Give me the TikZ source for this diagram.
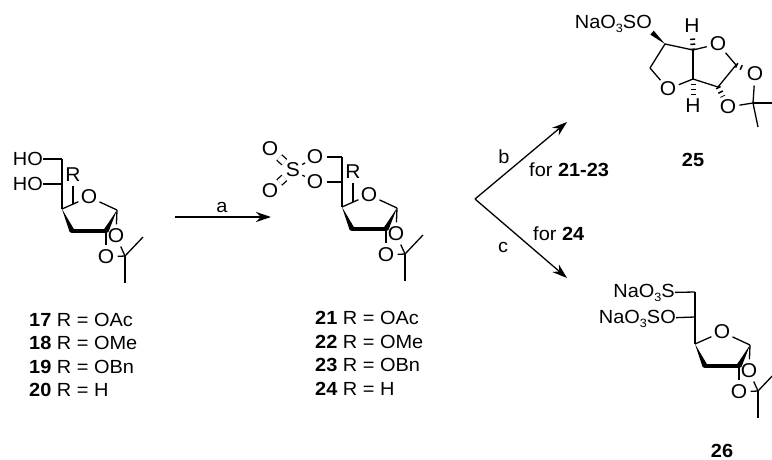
\documentclass[tikz,border=0pt]{standalone}
\usepackage{fontspec}
\setmainfont{Liberation Sans}[FakeStretch=1.05]
\usetikzlibrary{arrows.meta,calc}
\tikzset{
  AtomStyle/.style = { circle, inner sep = 0.4pt, font = \fontsize{20}{20}\selectfont },
  LabelStyle/.style = { inner sep = 0pt, font = \fontsize{19}{19}\selectfont },
  BondStyle/.style = { line width = 1.3pt },
  BoldStyle/.style = { line width = 4.5pt, line cap = round },
  HashStyle/.style = { line width = 5pt, dash pattern = on 1.5pt off 3.5pt },
  ArrowStyle/.style = { line width = 1.3pt, -{Stealth[length = 15pt, width = 10pt]} } }
\newcommand{\subthree}{\raisebox{-3.5pt}{\fontsize{12}{12}\selectfont 3}}
\newcommand{\wedgebond}[2]{\fill (#1) -- ($(#2)!2.6pt!90:(#1)$) -- ($(#2)!2.6pt!-90:(#1)$) -- cycle;}
\newcommand{\sugarring}[3]{
  \begin{scope}[shift = {(#2,#3)}, name prefix = #1-]
   \coordinate (C4) at (62,209);
   \coordinate (C3) at (72,231);
   \coordinate (C2) at (106,231);
   \coordinate (C1) at (117,210);
   \coordinate (CM) at (125,256);
   \coordinate (M1) at (143,237);
   \coordinate (M2) at (125,283);
   \node[AtomStyle] (OR) at (89,197) {O};
   \node[AtomStyle] (OT) at (116,236) {O};
   \node[AtomStyle] (OB) at (106,257) {O};
   \draw[BondStyle] (C4) -- (OR);
   \draw[BondStyle] (OR) -- (C1);
   \draw[BondStyle] (C1) -- (OT);
   \draw[BondStyle] (C2) -- (OB);
   \draw[BondStyle] (OT) -- (CM);
   \draw[BondStyle] (OB) -- (CM);
   \draw[BondStyle] (CM) -- (M1);
   \draw[BondStyle] (CM) -- (M2);
   \wedgebond{C4}{C3}
   \draw[BoldStyle] (C3) -- (C2);
   \wedgebond{C1}{C2}
  \end{scope}}

\begin{document}
\begin{tikzpicture}[x=1pt,y=-1pt]
  \clip (0,0) rectangle (772,460);

  % 17-20
  \sugarring{diol}{0}{0}
  \coordinate (diolC6) at (62,159);
  \coordinate (diolC5) at (62,184);
  \coordinate (diolRb) at (73,204);
  \node[LabelStyle, anchor = east] (diolO6) at (43,159) {HO};
  \node[LabelStyle, anchor = east] (diolO5) at (43,184) {HO};
  \node[AtomStyle] (diolR) at (73,175) {R};
  \draw[BondStyle] (diolO6) -- (diolC6);
  \draw[BondStyle] (diolO5) -- (diolC5);
  \draw[BondStyle] (diolC6) -- (diolC5);
  \draw[BondStyle] (diolC5) -- (diol-C4);
  \draw[BondStyle] (diolR) -- (diolRb);

  \node[LabelStyle, anchor = base west] (l17) at (29,326) {\textbf{17} R = OAc};
  \node[LabelStyle, anchor = base west] (l18) at (29,349) {\textbf{18} R = OMe};
  \node[LabelStyle, anchor = base west] (l19) at (29,373) {\textbf{19} R = OBn};
  \node[LabelStyle, anchor = base west] (l20) at (29,396) {\textbf{20} R = H};

  % 21-24
  \sugarring{sulf}{280}{-2}
  \coordinate (sulfC6) at (342,157);
  \coordinate (sulfC5) at (342,182);
  \coordinate (sulfRb) at (353,202);
  \node[AtomStyle] (sulfO6) at (315,157) {O};
  \node[AtomStyle] (sulfO5) at (315,182) {O};
  \node[AtomStyle] (sulfS) at (293,170) {S};
  \node[AtomStyle] (sulfOa) at (270,149) {O};
  \node[AtomStyle] (sulfOb) at (270,191) {O};
  \node[AtomStyle] (sulfR) at (353,172) {R};
  \draw[BondStyle] (sulfO6) -- (sulfC6);
  \draw[BondStyle] (sulfO5) -- (sulfC5);
  \draw[BondStyle] (sulfC6) -- (sulfC5);
  \draw[BondStyle] (sulfC5) -- (sulf-C4);
  \draw[BondStyle] (sulfR) -- (sulfRb);
  \draw[BondStyle] (sulfS) -- (sulfO6);
  \draw[BondStyle] (sulfS) -- (sulfO5);
  \draw[BondStyle, double, double distance = 6pt, shorten <= 1pt, shorten >= 1pt] (sulfS) -- (sulfOa);
  \draw[BondStyle, double, double distance = 6pt, shorten <= 1pt, shorten >= 1pt] (sulfS) -- (sulfOb);

  \node[LabelStyle, anchor = base west] (l21) at (315,324) {\textbf{21} R = OAc};
  \node[LabelStyle, anchor = base west] (l22) at (315,348) {\textbf{22} R = OMe};
  \node[LabelStyle, anchor = base west] (l23) at (315,371) {\textbf{23} R = OBn};
  \node[LabelStyle, anchor = base west] (l24) at (315,395) {\textbf{24} R = H};

  % arrows
  \coordinate (a0) at (175,217);
  \coordinate (a1) at (271,217);
  \coordinate (fork) at (475,199);
  \coordinate (up) at (567,122);
  \coordinate (down) at (567,278);
  \draw[ArrowStyle] (a0) -- (a1);
  \draw[ArrowStyle] (fork) -- (up);
  \draw[ArrowStyle] (fork) -- (down);
  \node[LabelStyle] (la) at (222,207) {a};
  \node[LabelStyle] (lb) at (504,157) {b};
  \node[LabelStyle] (lc) at (503,247) {c};
  \node[LabelStyle, anchor = base west] (lbfor) at (529,176) {for \textbf{21-23}};
  \node[LabelStyle, anchor = base west] (lcfor) at (533,240) {for \textbf{24}};

  % 25
  \coordinate (bC5) at (665,44);
  \coordinate (bC4) at (693,50);
  \coordinate (bC1) at (736,65);
  \coordinate (bC2) at (718,87);
  \coordinate (bC3) at (693,79);
  \coordinate (bC6) at (650,68);
  \coordinate (bCM) at (753,103);
  \coordinate (bM1) at (772,103);
  \coordinate (bM2) at (758,127);
  \node[LabelStyle, anchor = east] (bOS) at (652,24) {NaO\subthree SO};
  \node[AtomStyle] (bHa) at (692,26) {H};
  \node[AtomStyle] (bHb) at (693,106) {H};
  \node[AtomStyle] (bOa) at (718,44) {O};
  \node[AtomStyle] (bOb) at (668,89) {O};
  \node[AtomStyle] (bOc) at (755,74) {O};
  \node[AtomStyle] (bOd) at (728,107) {O};
  \wedgebond{bC5}{bOS.south east}
  \draw[BondStyle] (bC5) -- (bC4);
  \draw[BondStyle] (bC4) -- (bOa);
  \draw[BondStyle] (bOa) -- (bC1);
  \draw[BondStyle] (bC1) -- (bC2);
  \draw[BondStyle] (bC2) -- (bC3);
  \draw[BondStyle] (bC3) -- (bC4);
  \draw[BondStyle] (bC3) -- (bOb);
  \draw[BondStyle] (bOb) -- (bC6);
  \draw[BondStyle] (bC6) -- (bC5);
  \draw[BondStyle] (bOc) -- (bCM);
  \draw[BondStyle] (bOd) -- (bCM);
  \draw[BondStyle] (bCM) -- (bM1);
  \draw[BondStyle] (bCM) -- (bM2);
  \draw[HashStyle] (bC4) -- (bHa);
  \draw[HashStyle] (bC3) -- (bHb);
  \draw[HashStyle] (bC1) -- (bOc);
  \draw[HashStyle] (bC2) -- (bOd);
  \node[LabelStyle] (l25) at (693,160) {\textbf{25}};

  % 26
  \sugarring{thio}{633}{135}
  \coordinate (thioC6) at (695,292);
  \coordinate (thioC5) at (695,317);
  \node[LabelStyle, anchor = east] (thioS) at (675,293) {NaO\subthree S};
  \node[LabelStyle, anchor = east] (thioO) at (676,319) {NaO\subthree SO};
  \draw[BondStyle] (thioS) -- (thioC6);
  \draw[BondStyle] (thioO) -- (thioC5);
  \draw[BondStyle] (thioC6) -- (thioC5);
  \draw[BondStyle] (thioC5) -- (thio-C4);
  \node[LabelStyle] (l26) at (722,451) {\textbf{26}};

\end{tikzpicture}
\end{document}
